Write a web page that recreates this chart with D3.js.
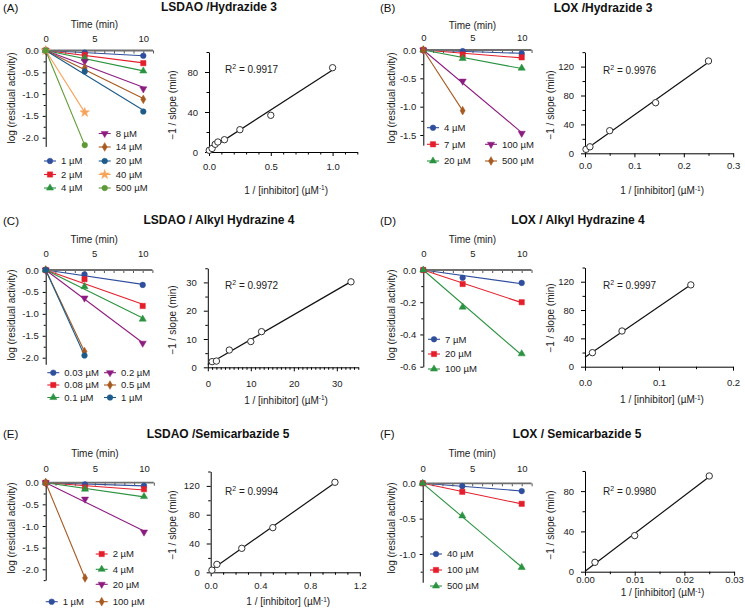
<!DOCTYPE html>
<html><head><meta charset="utf-8">
<script src="https://cdn.jsdelivr.net/npm/d3@7"></script>
<style>
body{margin:0;background:#fff;}
svg{font-family:"Liberation Sans",Arial,Helvetica,sans-serif;}
</style></head><body>
<svg id="c" width="745" height="609"></svg>
<script>
// ---------------- DATA ----------------
const times = [0, 4, 10];

// (A) LSDAO / Hydrazide 3
const concA = ["1 \u00b5M","2 \u00b5M","4 \u00b5M","8 \u00b5M","14 \u00b5M","20 \u00b5M","40 \u00b5M","500 \u00b5M"];
const logA = [[0,-0.05,-0.12],[0,-0.10,-0.29],[0,-0.18,-0.47],[0,-0.25,-0.88],[0,-0.40,-1.12],[0,-0.48,-1.40],[0,-1.42],[0,-2.17]];
const invA = [0.002,0.025,0.05,0.0714,0.125,0.25,0.5,1.0];
const rateA = [1.7,3.5,7.7,10,12.3,22.3,36.7,84.3];
const r2A = "0.9917";

// (B) LOX / Hydrazide 3
const concB = ["4 \u00b5M","7 \u00b5M","20 \u00b5M","100 \u00b5M","500 \u00b5M"];
const logB = [[0,-0.02,-0.06],[0,-0.08,-0.13],[0,-0.15,-0.32],[0,-0.55,-1.47],[0,-1.07]];
const invB = [0.002,0.01,0.05,0.143,0.25];
const rateB = [5.5,9,31.3,70,127.8];
const r2B = "0.9976";

// (C) LSDAO / Alkyl Hydrazine 4
const concC = ["0.03 \u00b5M","0.08 \u00b5M","0.1 \u00b5M","0.2 \u00b5M","0.5 \u00b5M","1 \u00b5M"];
const logC = [[0,-0.10,-0.34],[0,-0.21,-0.82],[0,-0.38,-1.12],[0,-0.64,-1.67],[0,-1.86],[0,-1.95]];
const invC = [1,2,5,10,12.5,33.3];
const rateC = [2.0,2.2,6.1,9.1,12.6,30.2];
const r2C = "0.9972";

// (D) LOX / Alkyl Hydrazine 4
const concD = ["7 \u00b5M","20 \u00b5M","100 \u00b5M"];
const logD = [[0,-0.048,-0.08],[0,-0.087,-0.20],[0,-0.23,-0.52]];
const invD = [0.01,0.05,0.143];
const rateD = [19.8,50.4,115.5];
const r2D = "0.9997";

// (E) LSDAO / Semicarbazide 5
const concE = ["1 \u00b5M","2 \u00b5M","4 \u00b5M","20 \u00b5M","100 \u00b5M"];
const logE = [[0,-0.04,-0.07],[0,-0.11,-0.15],[0,-0.15,-0.32],[0,-0.38,-1.14],[0,-2.20]];
const invE = [0.01,0.05,0.25,0.5,1.0];
const rateE = [3,11,33.3,62,125];
const r2E = "0.9994";

// (F) LOX / Semicarbazide 5
const concF = ["40 \u00b5M","100 \u00b5M","500 \u00b5M"];
const logF = [[0,-0.04,-0.11],[0,-0.12,-0.29],[0,-0.46,-1.19]];
const invF = [0.002,0.01,0.025];
const rateF = [9.3,35.8,95];
const r2F = "0.9980";

// tick values
const timeTicks = [0,5,10];
const yTicksA = [0,-0.5,-1,-1.5,-2];
const yTicksB = [0,-0.5,-1,-1.5];
const yTicksD = [0,-0.2,-0.4,-0.6];
const yTicksF = [0,-0.5,-1];
const rxTicksA = [0,0.5,1.0];
const rxTicksB = [0,0.1,0.2,0.3];
const rxTicksC = [0,10,20,30];
const rxTicksD = [0,0.1,0.2];
const rxTicksE = [0,0.4,0.8,1.2];
const rxTicksF = [0,0.01,0.02,0.03];
const ryTicks40 = [0,40,80,120];
const ryTicks10 = [0,10,20,30];

const titles = ["LSDAO /Hydrazide 3","LOX /Hydrazide 3","LSDAO / Alkyl Hydrazine 4","LOX / Alkyl Hydrazine 4","LSDAO /Semicarbazide 5","LOX / Semicarbazide 5"];
const letters = ["(A)","(B)","(C)","(D)","(E)","(F)"];

// ---------------- STYLE / LAYOUT ----------------
const COL = {blue:'#2f4e9d', red:'#e41f2b', green:'#2b9340', purple:'#8c1d80', brown:'#a65a21', dblue:'#1d5b8a', orange:'#f7a35a', olive:'#5d9a35'};
const ST = {
  circ:{sym:d3.symbolCircle,size:25,rot:0},
  sq:{sym:d3.symbolSquare,size:28,rot:0},
  tri:{sym:d3.symbolTriangle,size:22,rot:0},
  triD:{sym:d3.symbolTriangle,size:22,rot:180},
  dia:{sym:d3.symbolDiamond,size:22,rot:0},
  star:{sym:d3.symbolStar,size:28,rot:0}
};
const S6 = [[COL.blue,'circ'],[COL.red,'sq'],[COL.green,'tri'],[COL.purple,'triD'],[COL.brown,'dia'],[COL.dblue,'circ']];
const S8 = S6.concat([[COL.orange,'star'],[COL.olive,'circ']]);

const fmtLog = v => (v<0?"-":"") + Math.abs(v).toFixed(1);

const panels = [
 {conc:concA, log:logA, inv:invA, rate:rateA, r2:r2A, sty:S8,
  L:{x0:45.7,x10:143.3,y0:50.5,yRef:-2,yRefPx:137.7,yMin:-2.2,ticks:yTicksA,minor:0.25,tl:12,tt:26,ytx:11,ytc:98},
  leg:[[50,161],[50,174.5],[50,188],[104.7,133.5],[104.7,147],[104.7,161],[104.7,174.5],[104.7,188]],
  R:{x0:209,xMax:1.2,xppu:123.6,y0:152,yMax:100,yppu:1.0,xt:rxTicksA,xminor:0.1,xfmt:d3.format(".1f"),yt:[0,40,80],yminor:20,xl:18,xtl:38,ytx:172,ytc:105,r2x:225,r2y:69.5},
  title:{x:219,y:11}, letter:{x:3,y:12}},
 {conc:concB, log:logB, inv:invB, rate:rateB, r2:r2B, sty:S6,
  L:{x0:423.3,x10:521.7,y0:50,yRef:-1.5,yRefPx:135,yMin:-1.68,ticks:yTicksB,minor:0.25,tl:12,tt:25,ytx:391,ytc:98},
  leg:[[433,127.7],[433,144.3],[433,161],[491,144.3],[491,161]],
  R:{x0:585,xMax:0.3,xppu:494,y0:153.3,yMax:140,yppu:0.7225,xt:rxTicksB,xminor:0.05,xfmt:d3.format(".1f"),yt:ryTicks40,yminor:20,xl:16,xtl:37.5,ytx:550,ytc:105,r2x:603,r2y:70},
  title:{x:603,y:11.5}, letter:{x:380,y:12}},
 {conc:concC, log:logC, inv:invC, rate:rateC, r2:r2C, sty:S6,
  L:{x0:45.7,x10:142.7,y0:270,yRef:-2,yRefPx:357.7,yMin:-2.15,ticks:yTicksA,minor:0.25,tl:16,tt:30.7,ytx:11,ytc:315},
  leg:[[53.3,372.7],[53.3,385],[53.3,397.5],[110,372.7],[110,385],[110,397.5]],
  R:{x0:207.8,xMax:35,xppu:4.3,y0:367.3,yMax:35,yppu:2.83,xt:rxTicksC,xminor:1,xfmt:d3.format("d"),yt:ryTicks10,yminor:5,xl:19.4,xtl:33,ytx:172,ytc:320},
  title:{x:219,y:224.3}, letter:{x:3,y:225}},
 {conc:concD, log:logD, inv:invD, rate:rateD, r2:r2D, sty:S6,
  L:{x0:423.3,x10:521.7,y0:270,yRef:-0.6,yRefPx:366.7,yMin:-0.6,ticks:yTicksD,minor:0.1,tl:16.7,tt:30.7,ytx:391,ytc:315},
  leg:[[434,339.3],[434,354],[434,369]],
  R:{x0:585,xMax:0.2,xppu:740,y0:366.7,yMax:140,yppu:0.7083,xt:rxTicksD,xminor:0.05,xfmt:d3.format(".1f"),yt:ryTicks40,yminor:20,xl:19.3,xtl:33,ytx:550,ytc:318},
  title:{x:578,y:224.3}, letter:{x:380,y:225}},
 {conc:concE, log:logE, inv:invE, rate:rateE, r2:r2E, sty:S6,
  L:{x0:45.7,x10:144,y0:482.7,yRef:-2,yRefPx:569.3,yMin:-2.25,ticks:yTicksA,minor:0.25,tl:13.7,tt:29.4,ytx:11,ytc:528},
  leg:[[51.7,601.7],[101.7,554],[101.7,569.3],[101.7,584.3],[101.7,601.7]],
  R:{x0:210.7,xMax:1.2,xppu:124.25,y0:572.3,yMax:140,yppu:0.72,xt:rxTicksE,xminor:0.1,xfmt:d3.format(".1f"),yt:ryTicks40,yminor:20,xl:17,xtl:29.4,ytx:172,ytc:525,r2x:225,r2y:491},
  title:{x:218,y:437.6}, letter:{x:3,y:437.6}},
 {conc:concF, log:logF, inv:invF, rate:rateF, r2:r2F, sty:S6,
  L:{x0:422.7,x10:521.7,y0:483.3,yRef:-1,yRefPx:554,yMin:-1.4,ticks:yTicksF,minor:0.25,tl:14.3,tt:30,ytx:391,ytc:528},
  leg:[[436,554],[436,570],[436,586]],
  R:{x0:585,xMax:0.03,xppu:4970,y0:571.7,yMax:100,yppu:1.0075,xt:rxTicksF,xminor:0.005,xfmt:d3.format(".2f"),yt:[0,40,80],yminor:20,xl:11,xtl:21,ytx:550,ytc:525,r2x:603,r2y:491},
  title:{x:577,y:437.6}, letter:{x:380,y:437.6}}
];
panels[2].R.r2x=225; panels[2].R.r2y=285;
panels[3].R.r2x=603; panels[3].R.r2y=285;

const svg = d3.select('#c');
const TF = 9.5;   // tick font
const AF = 10;    // axis title font

function sym(g, x, y, st, color){
  const s = ST[st];
  g.append('path').attr('d', d3.symbol().type(s.sym).size(s.size)())
   .attr('transform', `translate(${x},${y}) rotate(${s.rot})`)
   .attr('fill', color).attr('stroke', color).attr('stroke-width',0.5);
}

function styleAxis(a){
  a.selectAll('path.domain').attr('stroke','#000').attr('stroke-width',1);
  a.selectAll('.tick line').attr('stroke','#000');
  a.selectAll('text').attr('font-size',TF).attr('fill','#222').attr('font-family',null);
  a.attr('font-family',null).attr('font-size',null);
}

panels.forEach((P, pi) => {
  const g = svg.append('g');
  const L = P.L;
  const ppu = (L.yRefPx - L.y0)/L.yRef;
  const x = d3.scaleLinear().domain([0,11]).range([L.x0, L.x0 + 11*(L.x10-L.x0)/10]);
  const y = d3.scaleLinear().domain([0, L.yMin]).range([L.y0, L.y0 + L.yMin*ppu]);

  // fitted lines through origin
  P.log.forEach((ys,i) => {
    const ts = times.slice(0, ys.length);
    let sxy=0, sxx=0;
    ts.forEach((t,j)=>{ sxy += t*ys[j]; sxx += t*t; });
    const k = sxy/sxx, tEnd = ts[ts.length-1];
    g.append('line').attr('x1',x(0)).attr('y1',y(0)).attr('x2',x(tEnd)).attr('y2',y(k*tEnd))
      .attr('stroke',P.sty[i][0]).attr('stroke-width',1.1);
  });

  // y axis (left)
  const ay = g.append('g').attr('transform',`translate(${L.x0},0)`)
    .call(d3.axisLeft(y).tickValues(L.ticks).tickSize(3).tickSizeOuter(0).tickPadding(4).tickFormat(fmtLog));
  styleAxis(ay);
  const minors = d3.range(0, L.yMin-1e-9, -L.minor).filter(v => !L.ticks.some(t=>Math.abs(t-v)<1e-9));
  const aym = g.append('g').attr('transform',`translate(${L.x0},0)`)
    .call(d3.axisLeft(y).tickValues(minors).tickSize(2).tickFormat(''));
  aym.select('path.domain').remove();
  aym.selectAll('.tick line').attr('stroke','#000');

  // top time axis
  const ax = g.append('g').attr('transform',`translate(0,${L.y0})`)
    .call(d3.axisBottom(x).tickValues(d3.range(0,12)).tickSize(3).tickFormat(''));
  ax.select('path.domain').remove();
  ax.selectAll('.tick line').attr('stroke','#555');
  g.append('line').attr('x1',x(0)).attr('x2',x(11)).attr('y1',L.y0).attr('y2',L.y0)
    .attr('stroke','#6f6f6f').attr('stroke-width',1.8);
  const axl = g.append('g').attr('transform',`translate(0,${L.y0 - L.tl + 3.4})`)
    .call(d3.axisTop(x).tickValues(timeTicks).tickSize(0).tickPadding(0).tickFormat(d3.format('d')));
  axl.select('path.domain').remove();
  axl.selectAll('text').attr('font-size',TF).attr('fill','#222').attr('dy',0);
  axl.attr('font-family',null).attr('font-size',null);
  g.append('text').attr('x',x(5)).attr('y',L.y0 - L.tt + 3.5).attr('text-anchor','middle')
    .attr('font-size',AF).attr('fill','#222').text('Time (min)');
  g.append('text').attr('transform',`translate(${L.ytx + 3.5},${L.ytc}) rotate(-90)`)
    .attr('text-anchor','middle').attr('font-size',AF).attr('fill','#222').text('log (residual activity)');

  // markers
  P.log.forEach((ys,i) => {
    ys.forEach((v,j) => sym(g, x(times[j]), y(v), P.sty[i][1], P.sty[i][0]));
  });

  // legend
  P.conc.forEach((c,i) => {
    const [mx,my] = P.leg[i];
    g.append('line').attr('x1',mx-6).attr('x2',mx+6).attr('y1',my).attr('y2',my)
      .attr('stroke',P.sty[i][0]).attr('stroke-width',1.1);
    sym(g, mx, my, P.sty[i][1], P.sty[i][0]);
    g.append('text').attr('x',mx+11).attr('y',my+3.3).attr('font-size',9.5).attr('fill','#222').text(c);
  });

  // -------- right plot --------
  const R = P.R;
  const rx = d3.scaleLinear().domain([0,R.xMax]).range([R.x0, R.x0 + R.xMax*R.xppu]);
  const ry = d3.scaleLinear().domain([0,R.yMax]).range([R.y0, R.y0 - R.yMax*R.yppu]);

  const bx = g.append('g').attr('transform',`translate(0,${R.y0})`)
    .call(d3.axisBottom(rx).tickValues(R.xt).tickSize(4).tickSizeOuter(0).tickPadding(R.xl-4-3.4-3.4).tickFormat(R.xfmt));
  styleAxis(bx);
  bx.selectAll('text').attr('dy','0.71em');
  const xmin = d3.range(0, R.xMax+1e-12, R.xminor).filter(v => !R.xt.some(t=>Math.abs(t-v)<1e-9));
  const bxm = g.append('g').attr('transform',`translate(0,${R.y0})`)
    .call(d3.axisBottom(rx).tickValues(xmin).tickSize(2.5).tickFormat(''));
  bxm.select('path.domain').remove();
  bxm.selectAll('.tick line').attr('stroke','#000');

  const by = g.append('g').attr('transform',`translate(${R.x0},0)`)
    .call(d3.axisLeft(ry).tickValues(R.yt).tickSize(4).tickSizeOuter(0).tickPadding(7).tickFormat(d3.format('d')));
  styleAxis(by);
  const ymin = d3.range(0, R.yMax+1e-9, R.yminor).filter(v => !R.yt.some(t=>Math.abs(t-v)<1e-9));
  const bym = g.append('g').attr('transform',`translate(${R.x0},0)`)
    .call(d3.axisLeft(ry).tickValues(ymin).tickSize(2.5).tickFormat(''));
  bym.select('path.domain').remove();
  bym.selectAll('.tick line').attr('stroke','#000');

  // regression line
  const mxv = d3.mean(P.inv), myv = d3.mean(P.rate);
  let sxy=0,sxx=0;
  P.inv.forEach((v,i)=>{ sxy += (v-mxv)*(P.rate[i]-myv); sxx += (v-mxv)*(v-mxv); });
  const slope = sxy/sxx, icpt = myv - slope*mxv;
  const xEnd = d3.max(P.inv);
  g.append('line').attr('x1',rx(0)).attr('y1',ry(Math.max(0,icpt))).attr('x2',rx(xEnd)).attr('y2',ry(icpt+slope*xEnd))
    .attr('stroke','#111').attr('stroke-width',1.2);

  P.inv.forEach((v,i) => {
    g.append('circle').attr('cx',rx(v)).attr('cy',ry(P.rate[i])).attr('r',3.2)
      .attr('fill','#fff').attr('stroke','#333').attr('stroke-width',1);
  });

  // R2 label
  const rt = g.append('text').attr('x',R.r2x).attr('y',R.r2y+3.5).attr('font-size',AF).attr('fill','#222');
  rt.append('tspan').text('R');
  rt.append('tspan').attr('font-size',7).attr('dy',-4).text('2');
  rt.append('tspan').attr('dy',4).text(' = ' + P.r2);

  // axis titles
  const xtt = g.append('text').attr('x', R.x0 + 0.5*R.xMax*R.xppu + 3).attr('y', R.y0 + R.xtl + 3.5)
    .attr('text-anchor','middle').attr('font-size',AF).attr('fill','#222');
  xtt.append('tspan').text('1  / [inhibitor] (\u00b5M');
  xtt.append('tspan').attr('font-size',6.5).attr('dy',-3.5).text('-1');
  xtt.append('tspan').attr('dy',3.5).text(')');
  g.append('text').attr('transform',`translate(${R.ytx + 3.5},${R.ytc}) rotate(-90)`)
    .attr('text-anchor','middle').attr('font-size',AF).attr('fill','#222').text('\u22121 / slope (min)');

  // titles
  g.append('text').attr('x',P.title.x).attr('y',P.title.y).attr('text-anchor','middle')
    .attr('font-size',12).attr('font-weight','bold').attr('fill','#111').text(titles[pi]);
  g.append('text').attr('x',P.letter.x).attr('y',P.letter.y).attr('font-size',11.5).attr('fill','#111').text(letters[pi]);
});
</script>
</body></html>
